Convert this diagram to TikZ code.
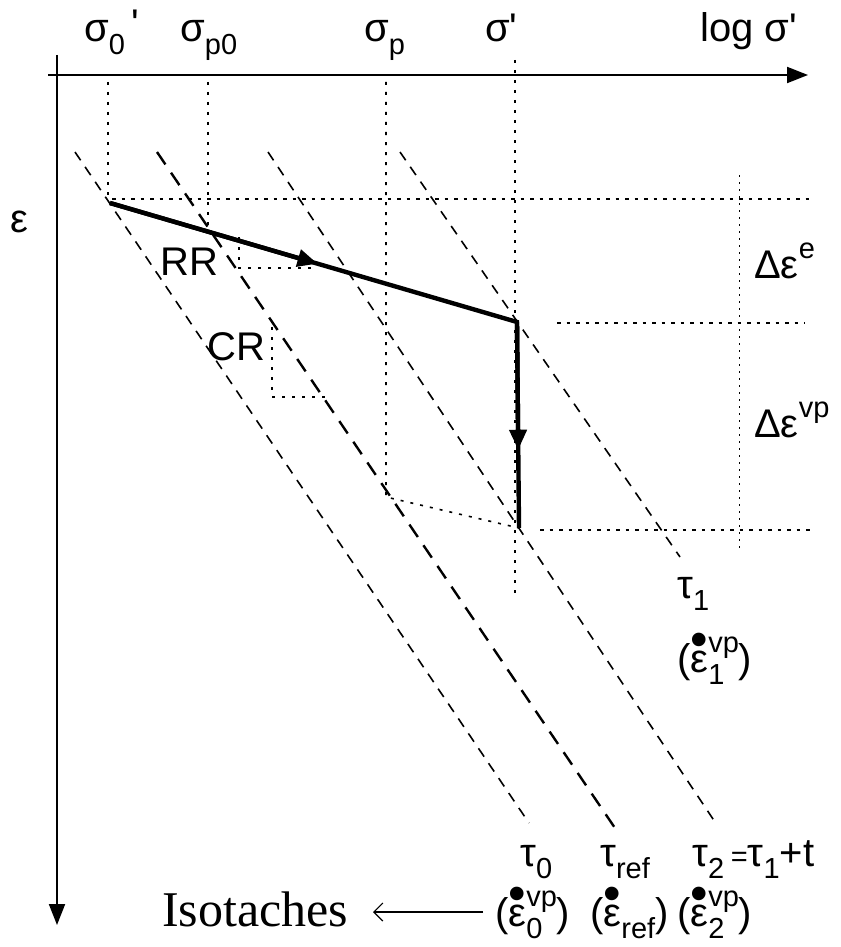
\documentclass[tikz,border=0pt]{standalone}
\usepackage{fontspec}
\setmainfont{Liberation Sans}
\newfontfamily\tnrfont{Liberation Serif}
\usetikzlibrary{arrows.meta,calc}
\newcommand\lsub[1]{\raisebox{-0.32em}{\fontsize{29}{29}\selectfont #1}}
\newcommand\lsup[1]{\raisebox{0.50em}{\fontsize{29}{29}\selectfont #1}}
\newcommand\lss[2]{\rlap{\lsub{#1}}\lsup{#2}}
\newcommand\edot{\ooalign{ε\cr\hidewidth\raisebox{0.38em}{\fontsize{50}{50}\selectfont •}\hidewidth\cr}}
\newcommand\prm{\textquotesingle}
\begin{document}
\begin{tikzpicture}[x=1pt,y=-1pt,
  lbl/.style={anchor=base west,inner sep=0pt,font=\fontsize{40}{40}\selectfont},
  axisline/.style={line width=2pt},
  axtip/.style={-{Triangle[length=21pt,width=16pt]}},
  dotv/.style={line width=1.6pt,dash pattern=on 3pt off 7pt},
  doth/.style={line width=1.1pt,dash pattern=on 3.5pt off 6pt},
  dotthin/.style={line width=1pt,dash pattern=on 2pt off 5pt},
  iso/.style={line width=1.6pt,dash pattern=on 10pt off 8pt},
  isoref/.style={line width=2.4pt,dash pattern=on 15pt off 10pt},
  thickp/.style={line width=4.4pt},
  midtip/.style={-{Triangle[length=20pt,width=17pt]}},
  barb/.style={line width=1.2pt,-{Straight Barb[length=9pt,width=18pt]}}]
\useasboundingbox (0,0) rectangle (840,947);

% axes
\coordinate (xa0) at (48,75);
\coordinate (xa1) at (808,75);
\coordinate (ya0) at (57,55);
\coordinate (ya1) at (57,925);
\draw[axisline,axtip] (xa0) -- (xa1);
\draw[axisline,axtip] (ya0) -- (ya1);

% key points
\coordinate (A) at (110,203);
\coordinate (B) at (517,322);
\coordinate (C) at (519,528);

% isotaches
\coordinate (t0a) at (75,152);   \coordinate (t0b) at (529,823);
\coordinate (tra) at (157,152);  \coordinate (trb) at (617,831);
\coordinate (t2a) at (268,152);  \coordinate (t2b) at (715,822);
\coordinate (t1a) at (400,152);  \coordinate (t1b) at (680,557);
\draw[iso] (t0a) -- (t0b);
\draw[isoref] (tra) -- (trb);
\draw[iso] (t2a) -- (t2b);
\draw[iso] (t1a) -- (t1b);

% dotted verticals from the stress axis
\coordinate (s0a) at (108,82);  \coordinate (s0b) at (108,200);
\coordinate (sp0a) at (208,82); \coordinate (sp0b) at (208,225);
\coordinate (spa) at (386,82);  \coordinate (spb) at (386,497);
\coordinate (ssa) at (515,60);  \coordinate (ssb) at (515,600);
\draw[dotv] (s0a) -- (s0b);
\draw[dotv] (sp0a) -- (sp0b);
\draw[dotv] (spa) -- (spb) -- (C);
\draw[dotv] (ssa) -- (ssb);

% dotted horizontals
\coordinate (h1a) at (112,199); \coordinate (h1b) at (812,199);
\coordinate (h2a) at (557,323); \coordinate (h2b) at (805,323);
\coordinate (h3a) at (540,530); \coordinate (h3b) at (812,530);
\draw[doth] (h1a) -- (h1b);
\draw[doth] (h2a) -- (h2b);
\draw[doth] (h3a) -- (h3b);
\coordinate (va) at (739,175); \coordinate (vb) at (739,552);
\draw[dotthin] (va) -- (vb);

% RR and CR triangles
\coordinate (rr1) at (239,237); \coordinate (rr2) at (239,268); \coordinate (rr3) at (317,268);
\draw[dotv] (rr1) -- (rr2) -- (rr3);
\coordinate (cr1) at (272,327); \coordinate (cr2) at (272,397); \coordinate (cr3) at (327,397);
\draw[dotv] (cr1) -- (cr2) -- (cr3);

% stress path
\draw[thickp] (A) -- (B) -- (C);
\draw[thickp,midtip] (A) -- ($(A)!0.51!(B)$);
\draw[thickp,midtip] (B) -- ($(B)!0.62!(C)$);

% labels
\node[lbl] (ls0) at (84,42) {σ\lsub{0}\,\raisebox{0.12em}{\prm}};
\node[lbl] (lsp0) at (180,42) {σ\lsub{p0}};
\node[lbl] (lsp) at (364,42) {σ\lsub{p}};
\node[lbl] (lss) at (485,42) {σ\prm};
\node[lbl] (llog) at (700,42) {log σ\prm};
\node[lbl] (leps) at (10,232) {ε};
\node[lbl] (lrr) at (160,275) {RR};
\node[lbl] (lcr) at (207,360) {CR};
\node[lbl] (lde) at (754,278) {Δε\lsup{e}};
\node[lbl] (ldvp) at (754,437) {Δε\lsup{vp}};
\node[lbl] (lt1) at (677,598) {τ\lsub{1}};
\node[lbl] (le1) at (677,672) {(\edot\lss{1}{vp})};
\node[lbl] (lt0) at (520,866) {τ\lsub{0}};
\node[lbl] (ltr) at (600,866) {τ\lsub{ref}};
\node[lbl] (lt2) at (692,866) {τ\lsub{2}\,{\fontsize{29}{29}\selectfont =}τ\lsub{1}+t};
\node[lbl] (le0) at (495,926) {(\edot\lss{0}{vp})};
\node[lbl] (ler) at (590,926) {(\edot\lsub{ref})};
\node[lbl] (le2) at (677,926) {(\edot\lss{2}{vp})};
\node[anchor=base west,inner sep=0pt,font=\tnrfont\fontsize{50}{50}\selectfont] (liso) at (162,926) {Isotaches};
\coordinate (arr0) at (483,912);
\coordinate (arr1) at (373,912);
\draw[barb] (arr0) -- (arr1);
\end{tikzpicture}
\end{document}
